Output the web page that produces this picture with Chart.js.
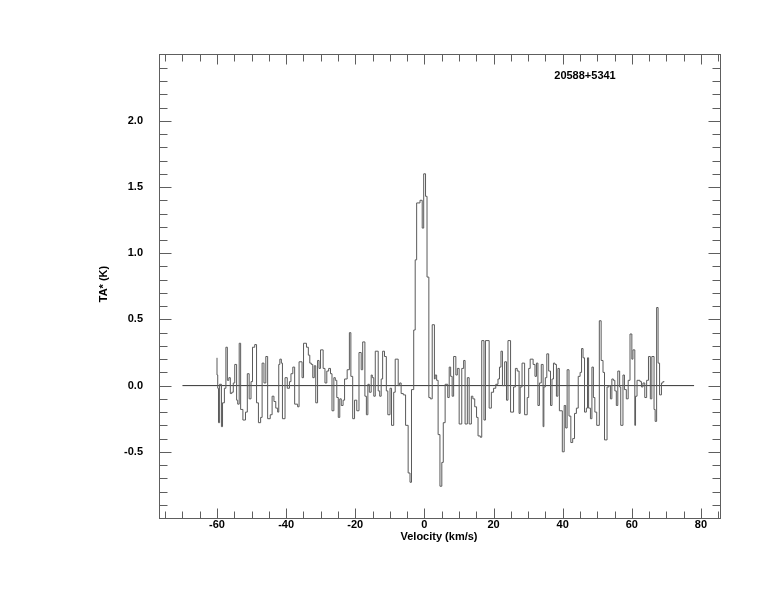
<!DOCTYPE html>
<html>
<head>
<meta charset="utf-8">
<script src="https://cdn.jsdelivr.net/npm/chart.js@4"></script>
<style>html,body{margin:0;padding:0;background:#fff}</style>
</head>
<body>
<canvas id="espectro" width="774" height="612"></canvas>
<script>
// Espectro: velocidade (km/s) e temperatura de antena TA* (K)
var velocidade = [
  -60.0,-59.79,-59.57,-59.25,-58.72,-58.4,-57.86,-57.43,-57.01,-56.58,-56.15,-55.72,-55.29,-54.87,-54.33,-54.01,-53.58,-53.16,-52.51,-51.76,
  -51.23,-50.7,-50.16,-49.73,-49.09,-48.56,-48.02,-47.38,-46.95,-46.42,-45.88,-45.35,-44.6,-44.06,-43.53,-43.0,-42.46,-42.14,-41.82,-41.39,
  -41.07,-40.32,-39.68,-39.04,-38.61,-38.07,-37.54,-36.68,-36.26,-35.4,-34.97,-34.12,-33.58,-33.16,-32.73,-32.3,-31.87,-31.44,-30.91,-30.48,
  -30.05,-29.3,-28.77,-28.24,-27.7,-27.17,-26.74,-26.2,-25.78,-25.35,-24.92,-24.49,-24.06,-23.53,-23.1,-22.35,-21.71,-21.28,-20.75,-20.21,
  -19.57,-18.93,-18.29,-17.86,-17.22,-16.79,-16.36,-15.94,-15.4,-15.08,-14.65,-14.22,-13.37,-12.94,-12.51,-12.09,-11.55,-11.02,-10.59,-9.95,
  -9.52,-8.89,-8.45,-7.59,-7.17,-6.74,-6.1,-5.45,-4.71,-4.17,-3.74,-3.1,-2.67,-2.25,-1.28,-0.64,-0.21,0.32,0.75,1.28,
  1.71,2.25,2.89,3.1,3.53,3.96,4.49,5.03,5.45,5.99,6.74,7.17,7.59,8.02,8.45,9.09,9.52,10.05,10.8,11.34,
  11.76,12.41,12.94,13.58,14.01,14.55,15.08,15.51,16.15,16.58,17.22,17.65,18.72,19.36,20.0,20.64,21.28,21.71,22.14,22.57,
  23.21,23.74,24.17,24.92,25.78,26.31,26.84,27.38,27.7,28.24,28.98,29.73,30.16,30.59,31.44,31.98,32.41,32.83,33.26,33.8,
  34.33,34.55,34.97,35.4,35.94,36.47,36.9,37.33,37.75,38.18,38.61,39.04,39.89,40.43,40.86,41.28,41.82,42.35,42.89,43.42,
  43.96,44.49,45.03,45.45,45.88,46.31,46.84,47.17,47.49,48.02,48.45,48.88,49.3,49.84,50.59,51.12,51.66,52.09,52.83,53.37,
  53.8,54.22,54.65,55.08,55.51,55.94,56.47,56.79,57.43,57.86,58.4,58.94,59.47,60.0,60.32,60.86,61.07,61.5,62.35,62.78,
  63.21,63.74,64.28,64.81,65.35,65.78,66.42,66.74,67.17,67.59,68.02,68.56,68.98,69.4
];
var temperatura = [
  0.21,0.08,-0.02,-0.28,0.01,-0.31,-0.13,-0.02,0.29,0.04,0.06,-0.06,-0.05,0.02,0.16,-0.11,-0.14,0.32,-0.18,-0.26,
  -0.2,0.09,-0.1,0.03,0.29,0.31,-0.13,-0.28,-0.24,0.17,0.02,0.22,-0.25,-0.22,-0.08,-0.12,-0.17,-0.2,0.16,0.2,
  0.17,-0.25,0.06,-0.02,0.03,0.09,0.14,-0.14,-0.16,0.18,0.06,0.32,0.29,0.23,0.17,0.16,0.06,0.15,-0.13,0.19,
  0.13,0.27,0.13,0.02,0.11,0.13,0.09,-0.19,0.06,0.04,-0.09,-0.24,-0.1,-0.15,-0.11,0.05,0.12,0.4,0.07,-0.25,
  -0.11,-0.19,0.25,0.12,0.33,-0.08,-0.22,0.01,-0.05,0.08,0.06,-0.08,0.26,-0.04,-0.08,0.05,0.26,0.22,-0.04,-0.22,
  -0.02,-0.3,-0.05,0.2,0.0,0.02,-0.06,-0.07,-0.3,-0.66,-0.73,-0.03,0.42,0.95,1.38,1.4,1.19,1.6,1.43,0.82,
  -0.09,-0.1,0.46,0.05,0.08,0.04,-0.37,-0.76,-0.58,-0.28,0.01,-0.09,0.14,0.07,-0.08,0.22,0.08,0.13,-0.29,0.13,
  0.19,-0.29,0.06,-0.29,-0.08,-0.1,-0.16,-0.24,-0.38,-0.39,0.34,-0.26,0.34,-0.17,-0.05,-0.02,0.01,0.05,0.14,0.26,
  0.0,0.18,-0.11,0.34,-0.2,-0.01,0.13,0.11,-0.21,-0.01,0.17,-0.22,-0.09,0.13,0.2,0.16,0.07,0.17,-0.15,0.02,
  0.16,-0.31,-0.01,0.06,0.24,0.11,-0.15,0.05,0.17,0.16,-0.08,0.13,-0.19,-0.5,-0.15,-0.32,0.12,-0.23,-0.43,-0.4,
  -0.21,-0.17,0.07,0.1,0.28,0.21,-0.2,-0.17,0.21,-0.17,-0.25,0.14,-0.09,-0.2,-0.3,0.49,0.19,0.1,-0.41,-0.01,
  0.0,-0.1,0.05,0.04,-0.04,-0.15,0.11,-0.01,-0.3,0.08,-0.03,-0.1,0.04,0.39,0.2,0.27,-0.3,-0.08,0.04,0.03,
  -0.01,0.02,-0.09,0.04,0.22,-0.1,0.22,-0.18,-0.27,0.59,0.17,-0.07,0.02,0.03
];
var linhaBase = [-70, 78];
var ticksX = [-60, -40, -20, 0, 20, 40, 60, 80];
var ticksY = [-0.5, 0.0, 0.5, 1.0, 1.5, 2.0];
var nomeFonte = '20588+5341';

var fonte = '"Liberation Sans", Arial, Helvetica, sans-serif';

// moldura com tracinhos para dentro, estilo IDL
var moldura = {
  id: 'moldura',
  afterDraw: function(chart) {
    var ctx = chart.ctx, a = chart.chartArea;
    var sx = chart.scales.x, sy = chart.scales.y;
    var L = Math.round(a.left) + 0.5, R = Math.round(a.right) + 0.5;
    var T = Math.round(a.top) + 0.5, B = Math.round(a.bottom) + 0.5;
    ctx.save();
    ctx.strokeStyle = '#5e5e5e';
    ctx.lineWidth = 1;
    ctx.strokeRect(L, T, R - L, B - T);
    ctx.beginPath();
    for (var v = -75; v <= 85; v += 5) {
      var px = Math.round(sx.getPixelForValue(v)) + 0.5;
      var len = (v % 20 === 0) ? 10 : 7;
      ctx.moveTo(px, B); ctx.lineTo(px, B - len);
      ctx.moveTo(px, T); ctx.lineTo(px, T + len);
    }
    for (var k = -9; k <= 24; k++) {
      var py = Math.round(sy.getPixelForValue(k / 10)) + 0.5;
      var l2 = (k % 5 === 0) ? 12 : 8;
      ctx.moveTo(L, py); ctx.lineTo(L + l2, py);
      ctx.moveTo(R, py); ctx.lineTo(R - l2, py);
    }
    ctx.stroke();

    ctx.fillStyle = '#000';
    ctx.font = 'bold 11px ' + fonte;
    ctx.textAlign = 'center';
    ctx.textBaseline = 'middle';
    ctx.fillText('Velocity (km/s)', (a.left + a.right) / 2 - 0.5, 537);
    ctx.fillText(nomeFonte, 585, 76);
    ctx.translate(104, 284);
    ctx.rotate(-Math.PI / 2);
    ctx.fillText('TA* (K)', 0, 0);
    ctx.restore();
  }
};

new Chart(document.getElementById('espectro'), {
  type: 'line',
  data: {
    datasets: [{
      data: velocidade.map(function(v, i) { return { x: v, y: temperatura[i] }; }),
      stepped: 'after',
      borderColor: '#5a5a5a',
      borderWidth: 1,
      pointRadius: 0,
      fill: false
    }, {
      data: linhaBase.map(function(v) { return { x: v, y: 0 }; }),
      borderColor: '#333',
      borderWidth: 1,
      pointRadius: 0,
      fill: false
    }]
  },
  options: {
    responsive: false, animation: false, devicePixelRatio: 1,
    layout: { padding: { top: 54, right: 54, left: 0, bottom: 0 } },
    plugins: { legend: { display: false }, tooltip: { enabled: false } },
    scales: {
      x: {
        type: 'linear', min: -76.78, max: 85.5,
        afterBuildTicks: function(s) { s.ticks = ticksX.map(function(v) { return { value: v }; }); },
        afterFit: function(s) { s.height = 94; },
        grid: { display: false, drawTicks: false }, border: { display: false },
        ticks: { padding: 0, color: '#000', maxRotation: 0, font: { family: fonte, size: 11, weight: 'bold' },
                 callback: function(v) { return String(v); } }
      },
      y: {
        type: 'linear', min: -1.0, max: 2.505,
        afterBuildTicks: function(s) { s.ticks = ticksY.map(function(v) { return { value: v }; }); },
        afterFit: function(s) { s.width = 159; },
        grid: { display: false, drawTicks: false }, border: { display: false },
        ticks: { padding: 16, color: '#000', font: { family: fonte, size: 11, weight: 'bold' },
                 callback: function(v) { return v.toFixed(1); } }
      }
    }
  },
  plugins: [moldura]
});
</script>
</body>
</html>
